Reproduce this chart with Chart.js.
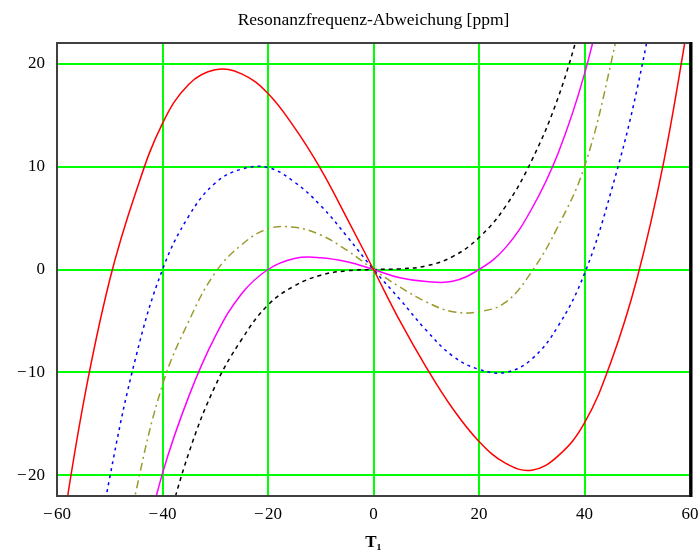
<!DOCTYPE html>
<html>
<head>
<meta charset="utf-8">
<script src="https://cdn.jsdelivr.net/npm/chart.js@4.4.1/dist/chart.umd.min.js"></script>
<style>
html, body { margin: 0; padding: 0; background: #fff; }
</style>
</head>
<body>
<canvas id="freqChart" width="700" height="553"></canvas>
<script>
// temperature T1 in steps of 5
const temps = [-60,-55,-50,-45,-40,-35,-30,-25,-20,-15,-10,-5,0,5,10,15,20,25,30,35,40,45,50,55,60];

// frequency deviation in ppm, one array per curve
const devRed     = [-28.5,-13.0,-1.0,7.6,14.2,18.0,19.4,19.0,17.1,13.8,9.75,4.95,0,-5.0,-9.5,-13.5,-16.7,-18.8,-19.5,-18.1,-14.9,-9.0,-0.8,10.4,25];
const devBlue    = [null,-35,-20.2,-8.4,0,5.2,8.4,9.75,9.9,8.5,6.2,3.2,0,-2.9,-5.9,-8.4,-9.7,-10.0,-8.7,-5.5,-0.4,7.5,17.6,31,null];
const devOlive   = [null,null,-35,-21.5,-11.2,-5.0,-0.3,2.4,3.95,4.1,3.35,1.85,0,-1.7,-3.15,-4.1,-4.1,-3.2,-0.2,4.2,10.0,20.0,33,null,null];
const devMagenta = [null,null,null,-30,-19.8,-12.3,-6.5,-2.35,0,1.07,1.15,0.75,0,-0.8,-1.17,-1.15,0,2.1,5.9,11.3,19.0,29.5,null,null,null];
const devBlack   = [null,null,null,null,-26.5,-17.8,-11.3,-6.8,-3.45,-1.6,-0.55,-0.12,0,0.06,0.35,1.25,3.1,6.1,10.6,16.7,25,null,null,null,null];

const xTicks = [-60,-40,-20,0,20,40,60];
const yTicks = [-20,-10,0,10,20];

const serif = '"Liberation Serif", "Times New Roman", serif';

function pts(ys) {
  return temps.map((t, i) => ({ x: t, y: ys[i] }));
}

function curve(ys, color, dash) {
  return {
    data: pts(ys),
    borderColor: color,
    borderWidth: 1.5,
    borderDash: dash,
    pointRadius: 0,
    tension: 0.4,
    fill: false,
    clip: 0
  };
}

function minusLabel(v) {
  return v < 0 ? '\u2212\u200a' + (-v) : String(v);
}

// title over the plot and the frame around it
const framePlugin = {
  id: 'frame',
  afterDraw(chart) {
    const { ctx, chartArea: a } = chart;
    ctx.save();
    ctx.font = '17.5px ' + serif;
    ctx.fillStyle = '#000';
    ctx.textAlign = 'center';
    ctx.textBaseline = 'middle';
    ctx.fillText('Resonanzfrequenz-Abweichung [ppm]', (a.left + a.right) / 2, 20);

    ctx.strokeStyle = '#404040';
    ctx.lineWidth = 2;
    ctx.strokeRect(a.left, a.top, a.right - a.left, a.bottom - a.top);
    ctx.strokeStyle = '#000';
    ctx.lineWidth = 3;
    ctx.beginPath();
    ctx.moveTo(a.right + 1, a.top - 1);
    ctx.lineTo(a.right + 1, a.bottom + 1);
    ctx.stroke();
    ctx.restore();
  }
};

new Chart(document.getElementById('freqChart'), {
  type: 'line',
  data: {
    datasets: [
      curve(devRed, '#ff0000', []),
      curve(devBlue, '#0000ff', [3, 4]),
      curve(devOlive, '#9a9a2e', [8, 4, 2, 4]),
      curve(devMagenta, '#ff00ff', []),
      curve(devBlack, '#000000', [4, 4])
    ]
  },
  options: {
    responsive: false,
    animation: false,
    layout: { padding: { top: 43, right: 10, left: 0, bottom: 0 } },
    plugins: {
      legend: { display: false },
      tooltip: { enabled: false }
    },
    scales: {
      x: {
        type: 'linear',
        min: -60,
        max: 60,
        afterBuildTicks: s => { s.ticks = xTicks.map(v => ({ value: v })); },
        afterFit: s => { s.height = 57; s.paddingLeft = 0; s.paddingRight = 0; },
        grid: { color: '#00ff00', lineWidth: 2, drawTicks: false },
        border: { color: '#404040', width: 2 },
        ticks: {
          color: '#000',
          padding: 8,
          maxRotation: 0,
          font: { family: serif, size: 17 },
          callback: minusLabel
        },
        title: {
          display: true,
          text: 'T\u2081',
          color: '#000',
          font: { family: serif, size: 17, weight: 'bold' },
          padding: { top: 0, bottom: 0 }
        }
      },
      y: {
        type: 'linear',
        min: -22,
        max: 22,
        afterBuildTicks: s => { s.ticks = yTicks.map(v => ({ value: v })); },
        afterFit: s => { s.width = 57; s.paddingTop = 0; s.paddingBottom = 0; },
        grid: { color: '#00ff00', lineWidth: 2, drawTicks: false },
        border: { color: '#404040', width: 2 },
        ticks: {
          color: '#000',
          padding: 12,
          font: { family: serif, size: 17 },
          callback: minusLabel
        }
      }
    }
  },
  plugins: [framePlugin]
});
</script>
</body>
</html>
